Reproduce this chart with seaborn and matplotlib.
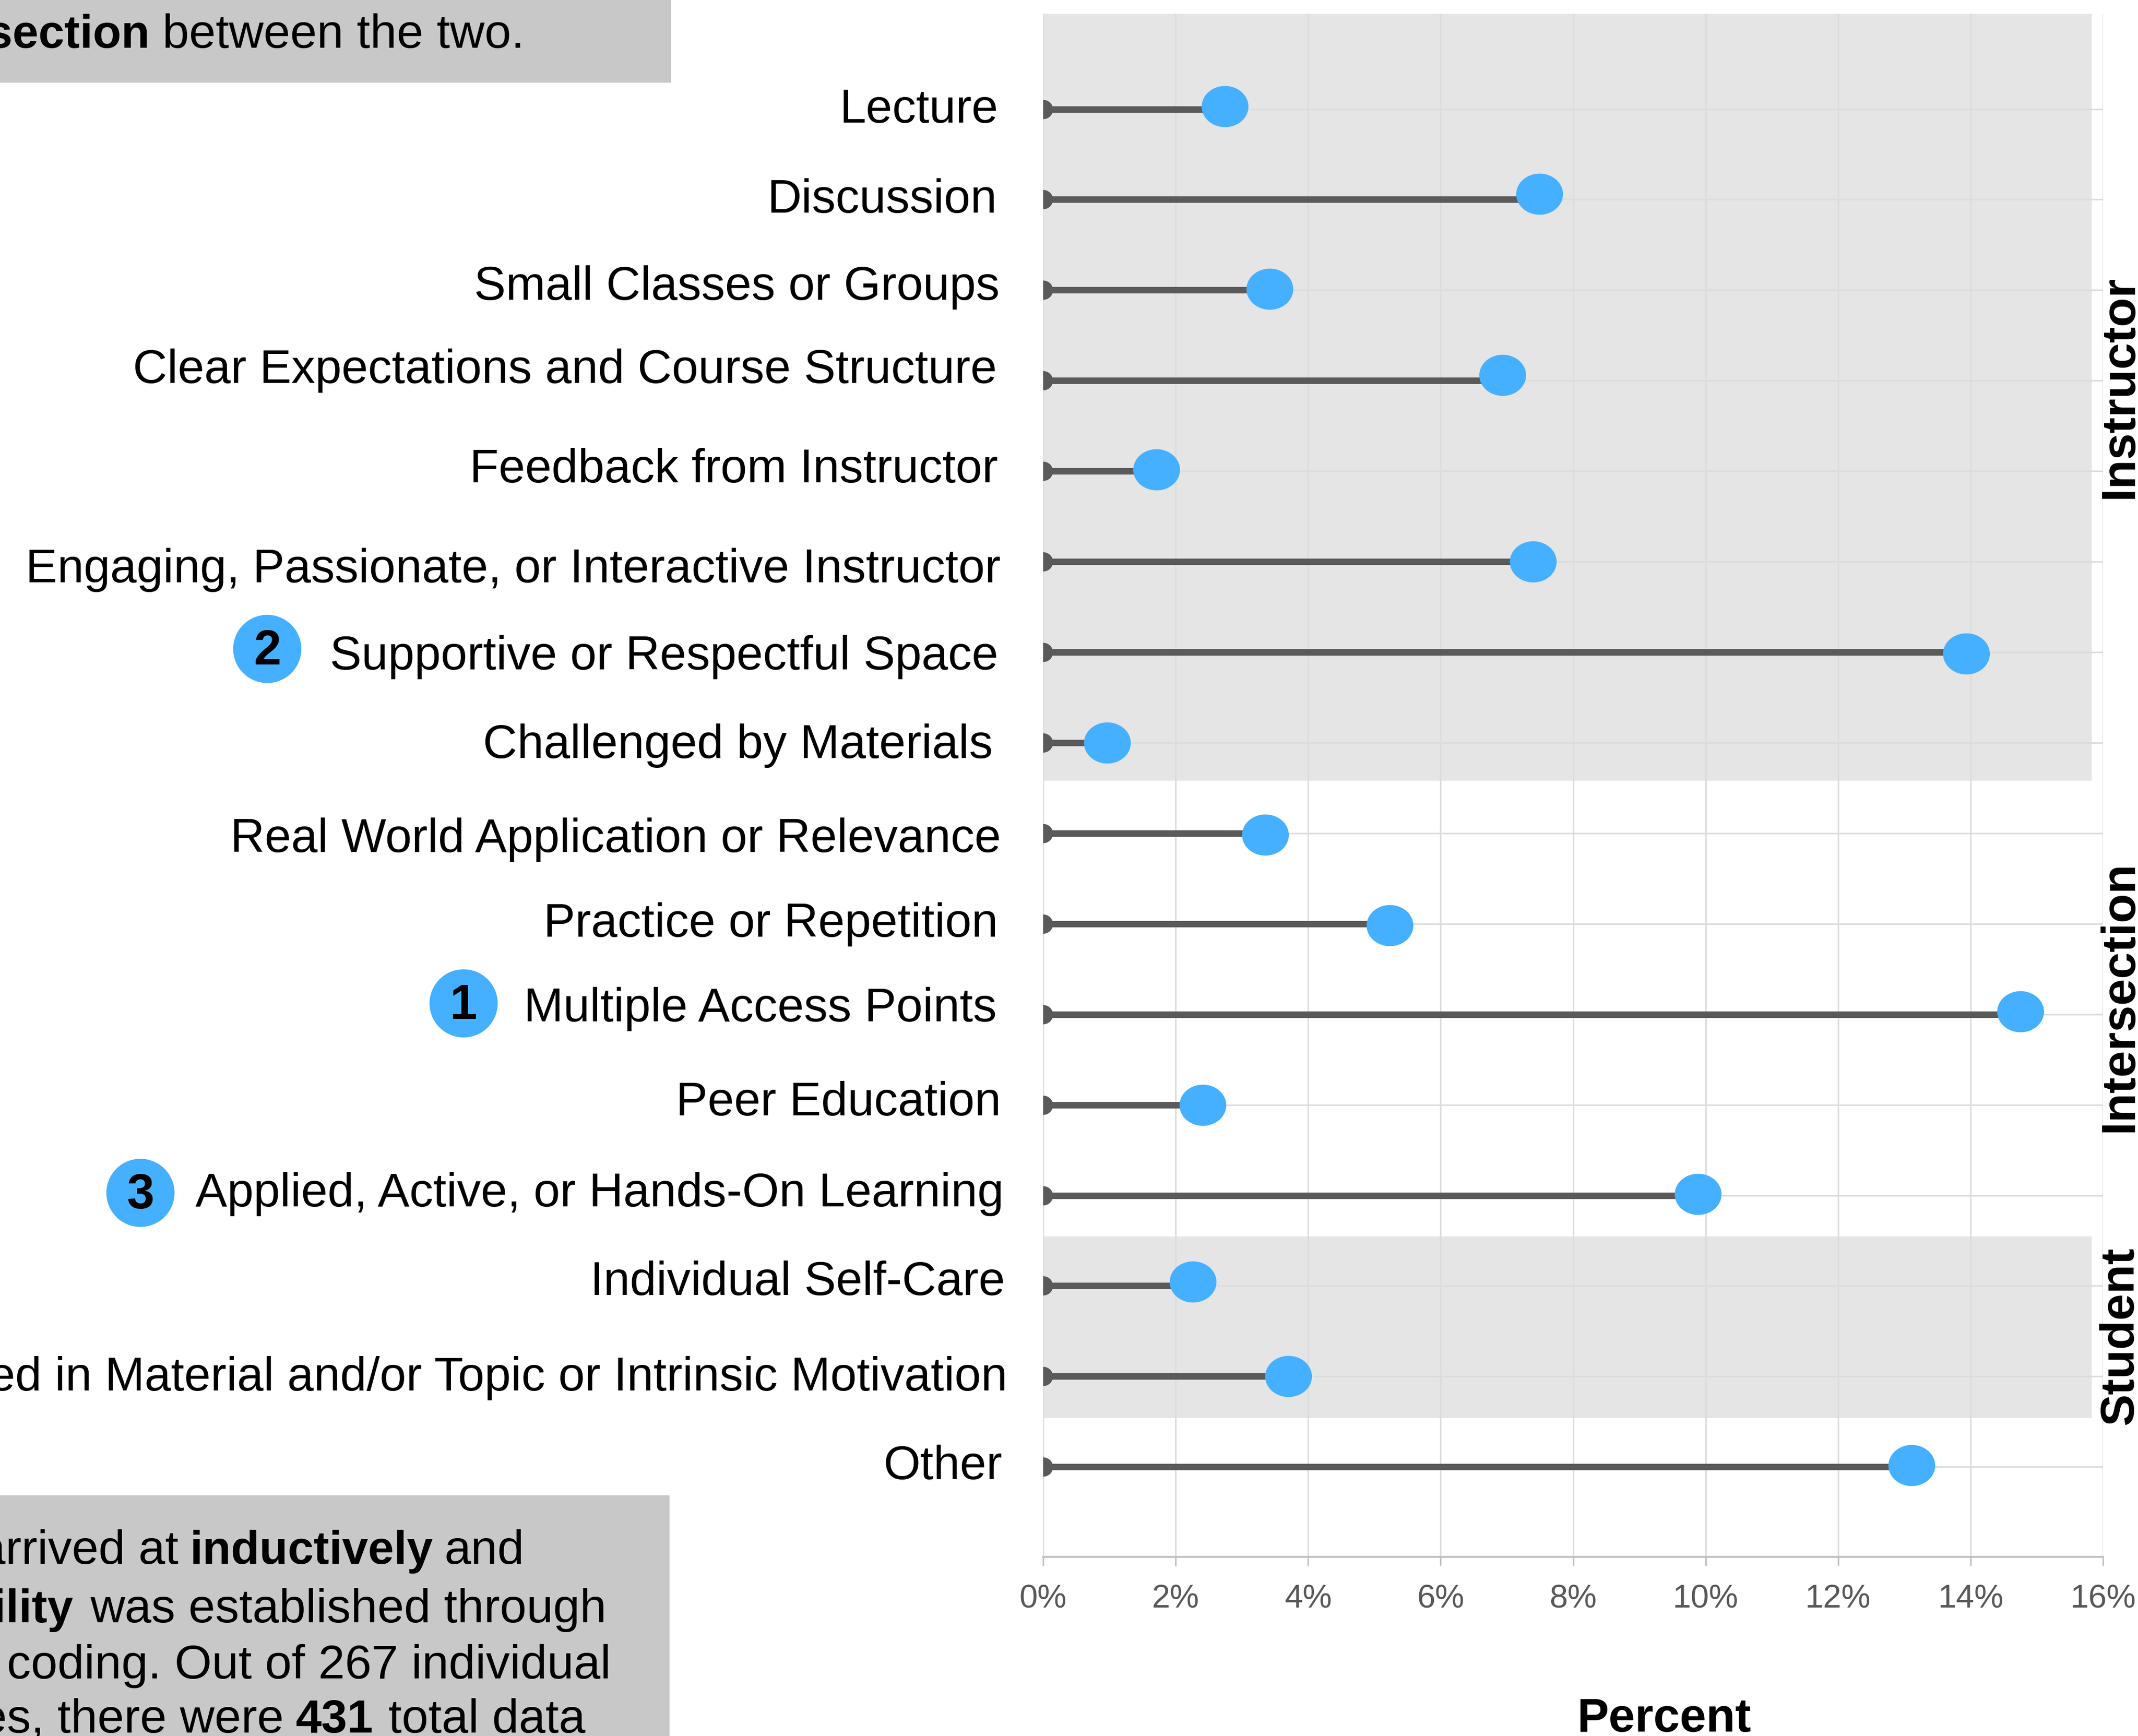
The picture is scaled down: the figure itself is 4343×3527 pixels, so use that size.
# Lollipop chart of percent of responses per teaching category
import matplotlib
matplotlib.use('Agg')
import matplotlib.pyplot as plt
from matplotlib.patches import Circle, Rectangle
from matplotlib.path import Path
from matplotlib.transforms import Affine2D
import pandas as pd
import seaborn as sns

# Data
categories = ['Lecture', 'Discussion', 'Small Classes or Groups',
              'Clear Expectations and Course Structure', 'Feedback from Instructor',
              'Engaging, Passionate, or Interactive Instructor', 'Supportive or Respectful Space',
              'Challenged by Materials', 'Real World Application or Relevance',
              'Practice or Repetition', 'Multiple Access Points', 'Peer Education',
              'Applied, Active, or Hands-On Learning', 'Individual Self-Care',
              'Interested in Material and/or Topic or Intrinsic Motivation', 'Other']
percent = [2.74, 7.49, 3.42, 6.93, 1.71, 7.39, 13.93, 0.97,
           3.35, 5.23, 14.75, 2.41, 9.88, 2.26, 3.70, 13.11]
groups = ['Instructor', 'Intersection', 'Student']
x_ticks = [0, 2, 4, 6, 8, 10, 12, 14, 16]

# Layout, in units of the 1568 wide preview
W, H = 1568, 1273.4
AX_LEFT, AX_RIGHT, AX_TOP, AX_BOTTOM = 765, 1542.5, 10, 1142
label_right = [732, 731, 733, 731, 732, 734, 732, 728, 734, 732, 731, 734, 736, 737, 739, 735]
label_base = [90, 156, 220, 281, 354, 427, 491, 556, 625, 687, 749, 818, 885, 950, 1020, 1085]
dot_shift = [-2, -4, -1, -4, -1, 0, 1, 0, 1, 1, -2, 0, -1, -3, 0, -1]
group_y = [284, 731, 980]
badges = [('2', 196, 476), ('1', 340, 736), ('3', 103, 875)]

# Text runs of the two grey notes: text, x, baseline, anchor, weight
note_runs = [('intersection', 110, 35, 'right', 'bold'),
             ('between the two.', 119, 35, 'left', 'normal'),
             ('arrived at', 131, 1147, 'right', 'normal'),
             ('inductively', 139, 1147, 'left', 'bold'),
             ('and', 326, 1147, 'left', 'normal'),
             ('reliability', 54, 1190, 'right', 'bold'),
             ('was established through', 66, 1190, 'left', 'normal'),
             ('coding. Out of 267 individual', 5, 1231, 'left', 'normal'),
             ('responses, there were', 208, 1271, 'right', 'normal'),
             ('431', 217, 1271, 'left', 'bold'),
             ('total data', 285, 1271, 'left', 'normal')]

LINE_DARK = '#5A5A5A'
BLUE = '#45B0FF'
BAND = '#E5E5E5'
GRID = '#DCDCDC'
NOTE = '#C8C8C8'
row_px = 66.4  # preview units per row
row0 = 80

sns.set_style('whitegrid', {'grid.color': GRID, 'axes.edgecolor': '#C0C0C0', 'xtick.bottom': True,
                            'xtick.color': '#C0C0C0', 'axes.axisbelow': True})
plt.rcParams['font.family'] = ['Liberation Sans', 'DejaVu Sans']

df = pd.DataFrame({'category': categories, 'percent': percent})
df['row'] = range(len(df))
df['dot_y'] = df['row'] + [s / row_px for s in dot_shift]
df['start'] = 0.0

# The blue dots are a little wider than tall
oval = Path.unit_circle().transformed(Affine2D().scale(1, 0.88))

fig = plt.figure(figsize=(43.43, 35.27), dpi=100)

# Background layer for notes, category names and badges
bg = fig.add_axes([0, 0, 1, 1])
bg.set_xlim(0, W)
bg.set_ylim(H, 0)
bg.axis('off')
bg.add_patch(Rectangle((0, 0), 492, 60.5, color=NOTE, lw=0))
bg.add_patch(Rectangle((0, 1097), 491, H - 1097, color=NOTE, lw=0))
for text, x, y, anchor, weight in note_runs:
    size = 68 if weight == 'bold' else 70
    bg.text(x, y, text, ha=anchor, va='baseline', fontweight=weight, fontsize=size, color='black')
for name, x, y in zip(categories, label_right, label_base):
    bg.text(x, y, name, ha='right', va='baseline', fontsize=69.5, color='black')
for num, x, y in badges:
    bg.add_patch(Circle((x, y), 25, color=BLUE, lw=0))
    bg.text(x, y + 2, num, ha='center', va='center', fontsize=72, fontweight='bold', color='black')

# Main axes
ax = fig.add_axes([AX_LEFT / W, 1 - AX_BOTTOM / H, (AX_RIGHT - AX_LEFT) / W, (AX_BOTTOM - AX_TOP) / H])
ax.patch.set_alpha(0)
ax.set_xlim(0, 16)
ax.set_ylim((AX_BOTTOM - row0) / row_px, (AX_TOP - row0) / row_px)

# Shaded Instructor and Student bands
ax.axhspan((AX_TOP - row0) / row_px, (572.5 - row0) / row_px, xmin=0, xmax=15.83 / 16, color=BAND, lw=0, zorder=0)
ax.axhspan((907 - row0) / row_px, (1040 - row0) / row_px, xmin=0, xmax=15.83 / 16, color=BAND, lw=0, zorder=0)

ax.hlines(df['row'], df['start'], df['percent'], color=LINE_DARK, lw=9.5, zorder=3)
sns.scatterplot(data=df, x='start', y='row', ax=ax, color=LINE_DARK, s=790, linewidth=0, zorder=4)
sns.scatterplot(data=df, x='percent', y='dot_y', ax=ax, color=BLUE, s=4680, marker=oval, linewidth=0, zorder=5)

ax.set_xticks(x_ticks, labels=[f'{t}%' for t in x_ticks])
ax.set_yticks(df['row'], labels=[])
ax.tick_params(axis='x', length=13, width=2.2, pad=27, labelsize=48, labelcolor='#595959')
ax.tick_params(axis='y', length=0)
ax.grid(True, lw=2.2, color=GRID)
for side in ['top', 'right', 'left']:
    ax.spines[side].set_visible(False)
ax.spines['bottom'].set_linewidth(2.8)
ax.set_ylabel('')
ax.set_xlabel('Percent', fontsize=69.5, fontweight='bold', color='black', va='baseline')
ax.xaxis.set_label_coords(0.586, (AX_BOTTOM - 1270) / (AX_BOTTOM - AX_TOP))

# Group names beside the axis, over everything
for name, y in zip(groups, group_y):
    fig.text(1555 / W, 1 - y / H, name, rotation=90, ha='center', va='center',
             fontsize=70, fontweight='bold', color='black')

fig.savefig('out.png', dpi=100)
